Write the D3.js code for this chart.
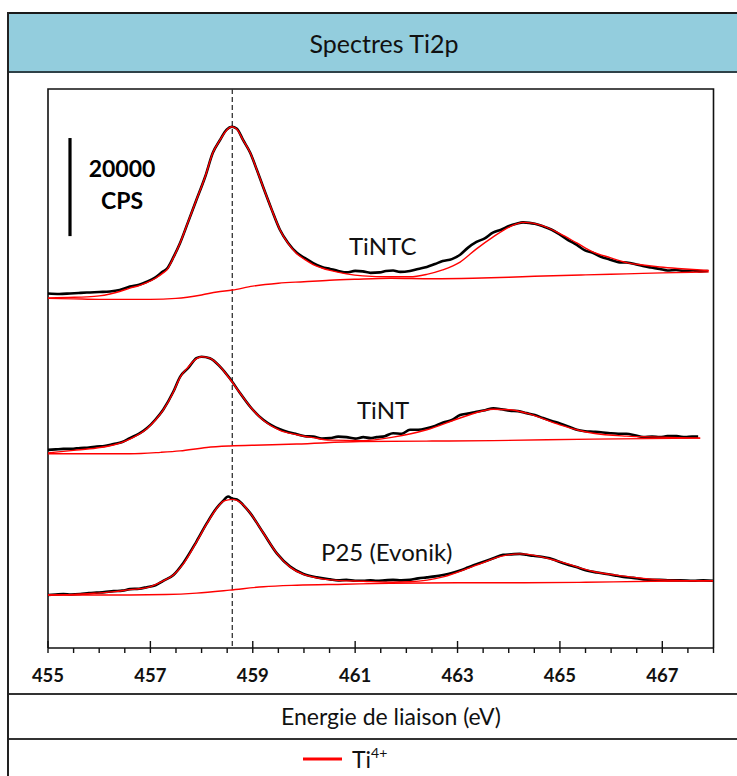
<!DOCTYPE html>
<html><head><meta charset="utf-8">
<script src="https://cdn.jsdelivr.net/npm/d3@7"></script>
<style>body{margin:0;background:#fff}svg{display:block}</style>
</head><body>
<svg id="c" width="737" height="776"></svg>
<script>
// ---------- data ----------
const chartTitle = "Spectres Ti2p";
const xLabel = "Energie de liaison (eV)";
const xTickValues = [455, 457, 459, 461, 463, 465, 467];
const xDomain = [455, 468];
const yDomain = [0, 114000];          // CPS (stacked spectra)
const refLine = 458.6;                // eV, dashed reference line
const scaleBar = [84000, 104000];     // 20000 CPS bar
const scaleBarText = ["20000", "CPS"];
const sampleNames = ["TiNTC", "TiNT", "P25 (Evonik)"];
const legendLabel = "Ti";
const legendSup = "4+";

// [binding energy eV, CPS] — measured spectra (black)
const tintcData = [[455.00,72300],[455.22,72200],[455.43,72300],[455.6,72400],[455.76,72500],[456.0,72600],[456.21,72700],[456.4,73000],[456.60,73700],[456.78,74100],[456.93,74700],[457.1,75600],[457.25,76800],[457.32,77300],[457.45,79700],[457.58,82600],[457.73,86700],[457.90,91400],[458.07,96100],[458.22,101000],[458.36,103600],[458.49,105700],[458.59,106300],[458.69,105900],[458.81,103600],[458.95,101000],[459.08,97500],[459.21,93800],[459.37,89400],[459.53,85300],[459.69,82600],[459.86,80600],[460.02,79500],[460.18,78500],[460.35,77700],[460.51,77300],[460.67,76900],[460.83,76600],[461.0,76900],[461.15,76800],[461.3,76500],[461.48,76600],[461.6,76900],[461.74,77000],[461.88,76700],[462.07,76900],[462.23,77300],[462.40,77700],[462.56,78300],[462.71,78900],[462.89,79300],[463.05,80200],[463.20,81600],[463.37,82800],[463.54,83600],[463.69,84700],[463.85,85300],[464.02,86100],[464.15,86500],[464.28,86800],[464.4,86700],[464.51,86500],[464.67,86000],[464.84,85300],[465.00,84300],[465.16,83200],[465.33,82200],[465.49,81100],[465.64,80600],[465.8,79800],[465.98,79200],[466.14,78700],[466.30,78600],[466.46,78300],[466.62,77900],[466.78,77600],[466.95,77300],[467.1,77000],[467.27,77100],[467.43,76900],[467.60,77000],[467.75,76800],[467.89,76900]];
const tintData = [[455.00,40400],[455.15,40500],[455.30,40600],[455.45,40600],[455.63,40800],[455.8,40900],[455.95,41100],[456.1,41200],[456.28,41600],[456.45,42000],[456.60,42800],[456.78,43700],[456.93,44800],[457.1,46600],[457.25,48600],[457.45,52300],[457.58,55300],[457.74,57100],[457.90,59100],[458.00,59400],[458.16,59100],[458.36,57400],[458.55,55000],[458.75,52000],[458.95,49200],[459.21,46500],[459.37,45400],[459.53,44600],[459.7,44000],[459.86,43600],[460.02,43200],[460.18,43100],[460.35,42700],[460.51,42800],[460.67,43100],[460.83,43000],[461.0,42700],[461.16,43000],[461.3,42800],[461.42,43000],[461.58,43200],[461.74,43800],[461.91,43700],[462.07,44500],[462.23,44500],[462.40,44800],[462.56,45300],[462.72,46000],[462.89,46500],[463.05,47500],[463.2,47800],[463.37,48200],[463.54,48500],[463.70,48900],[463.86,48700],[464.02,48400],[464.18,48300],[464.35,47900],[464.51,47500],[464.67,46900],[464.84,46300],[465.00,45800],[465.16,45200],[465.33,44500],[465.49,44200],[465.65,44100],[465.8,44000],[465.98,43800],[466.14,43700],[466.30,43700],[466.46,43400],[466.63,43000],[466.8,43100],[466.95,43000],[467.1,43200],[467.28,43200],[467.45,43000],[467.58,43100],[467.70,43100]];
const p25Data = [[455.00,10800],[455.15,10900],[455.30,11000],[455.45,10900],[455.63,11000],[455.8,11200],[455.95,11300],[456.1,11400],[456.28,11600],[456.45,11700],[456.60,12000],[456.78,12100],[456.93,12400],[457.1,12800],[457.25,13700],[457.45,14900],[457.64,17300],[457.90,21700],[458.10,25400],[458.29,28500],[458.42,30000],[458.52,30900],[458.59,30500],[458.69,30300],[458.81,29200],[458.95,27500],[459.21,23400],[459.47,19300],[459.73,16600],[459.99,15100],[460.25,14400],[460.51,14000],[460.67,13800],[460.83,13900],[461.0,13700],[461.16,13700],[461.3,13800],[461.42,13700],[461.58,13800],[461.74,13900],[461.9,13800],[462.07,13900],[462.23,14200],[462.40,14400],[462.56,14600],[462.72,14900],[462.89,15300],[463.05,15800],[463.2,16400],[463.37,17100],[463.54,17700],[463.70,18300],[463.89,19000],[464.05,19100],[464.22,19200],[464.35,19000],[464.48,18800],[464.64,18600],[464.80,18300],[464.96,17700],[465.13,17100],[465.32,16500],[465.52,15800],[465.72,15400],[465.91,15100],[466.07,14800],[466.24,14500],[466.43,14300],[466.63,14000],[466.8,13900],[466.95,13900],[467.15,13800],[467.35,13800],[467.60,13700],[467.8,13800],[467.99,13700]];

// Ti4+ fitted envelopes (red)
const tintcFit = [[455.00,71400],[455.4,71500],[455.76,71600],[456.0,71800],[456.21,72200],[456.4,72700],[456.60,73400],[456.78,73900],[456.93,74500],[457.1,75400],[457.25,76500],[457.32,77100],[457.45,79600],[457.58,82600],[457.73,86700],[457.90,91400],[458.07,96100],[458.22,101000],[458.36,103600],[458.49,105600],[458.59,106300],[458.69,105800],[458.81,103600],[458.95,101000],[459.08,97500],[459.21,93800],[459.37,89400],[459.53,85300],[459.69,82500],[459.86,80400],[460.02,79200],[460.18,78200],[460.35,77500],[460.51,77000],[460.83,76300],[461.15,75900],[461.68,75700],[462.07,75700],[462.40,76200],[462.71,77100],[463.05,78700],[463.37,81400],[463.69,83800],[464.02,85900],[464.28,86800],[464.67,86100],[465.00,84500],[465.33,82600],[465.64,80800],[465.98,79600],[466.30,78600],[466.62,78100],[466.95,77700],[467.30,77400],[467.60,77200],[467.91,77000]];
const tintFit = [[455.00,39800],[455.5,40300],[455.95,40800],[456.28,41400],[456.60,42600],[456.93,44700],[457.1,46500],[457.25,48500],[457.45,52200],[457.58,55200],[457.74,57300],[457.90,59000],[458.00,59400],[458.16,59100],[458.36,57400],[458.55,54900],[458.75,52000],[458.95,49200],[459.21,46400],[459.53,44400],[459.86,43500],[460.18,42900],[460.51,42400],[461.16,42300],[461.74,43000],[462.40,44500],[463.05,46900],[463.70,48700],[464.02,48600],[464.35,47900],[465.00,45500],[465.33,44500],[465.65,43800],[466.30,43200],[466.95,43000],[467.74,42800]];
const p25Fit = [[455.00,10800],[455.5,10900],[455.95,11200],[456.3,11500],[456.60,11900],[456.93,12300],[457.25,13700],[457.45,14900],[457.64,17100],[457.90,21600],[458.10,25300],[458.29,28400],[458.42,29900],[458.52,30200],[458.59,30300],[458.69,30100],[458.81,29200],[458.95,27500],[459.21,23400],[459.47,19300],[459.73,16500],[459.99,15000],[460.25,14300],[460.51,13900],[461.16,13600],[461.74,13400],[462.07,13500],[462.72,14500],[463.37,16900],[463.89,18800],[464.22,19200],[464.5,18900],[465.00,17600],[465.65,15600],[466.3,14600],[466.63,14200],[467.3,13800],[467.99,13700]];

// Shirley backgrounds (red)
const tintcBg = [[455.00,71300],[455.5,71200],[456.0,71100],[456.5,71100],[457.0,71100],[457.5,71300],[458.0,72000],[458.3,72600],[458.6,73000],[459.0,73800],[459.5,74400],[460.0,74700],[460.5,75000],[461.0,75200],[461.7,75400],[462.5,75300],[463.3,75400],[464.0,75600],[464.5,75800],[465.5,76100],[466.3,76300],[467.0,76500],[467.91,76700]];
const tintBg = [[455.00,39600],[456.0,39600],[456.6,39600],[457.2,39900],[457.58,40200],[458.1,40900],[458.55,41200],[459.2,41400],[459.86,41600],[461.1,42100],[462.5,42200],[463.7,42300],[465.65,42600],[467.74,42800]];
const p25Bg = [[455.00,10800],[456.0,10800],[456.6,10800],[457.3,10900],[457.90,11200],[458.55,11800],[459.21,12500],[459.86,12800],[460.8,13000],[461.68,13200],[463.0,13300],[464.3,13300],[465.5,13400],[466.8,13600],[467.99,13700]];

// ---------- layout ----------
const svg = d3.select("#c");
const W = 737, H = 776;
const frameL = 8, frameT = 13;
const plot = {l: 48, t: 89, r: 713.5, b: 648};
const font = "Lato, 'Open Sans', sans-serif";

const x = d3.scaleLinear().domain(xDomain).range([plot.l, plot.r]);
const y = d3.scaleLinear().domain(yDomain).range([plot.b, plot.t]);

// outer frame
svg.append("rect").attr("x", frameL).attr("y", frameT).attr("width", W + 10).attr("height", 59)
  .attr("fill", "#93CDDD").attr("stroke", "none");
svg.append("line").attr("x1", frameL).attr("x2", W).attr("y1", frameT).attr("y2", frameT)
  .attr("stroke", "#1a1a1a").attr("stroke-width", 2);
svg.append("line").attr("x1", frameL).attr("x2", W).attr("y1", 72).attr("y2", 72)
  .attr("stroke", "#2f4248").attr("stroke-width", 2);
[694, 739].forEach(yy => svg.append("line").attr("x1", frameL).attr("x2", W)
  .attr("y1", yy).attr("y2", yy).attr("stroke", "#333").attr("stroke-width", 2));
svg.append("line").attr("x1", frameL).attr("x2", frameL).attr("y1", frameT - 1).attr("y2", H)
  .attr("stroke", "#222").attr("stroke-width", 2);

svg.append("text").attr("x", 384).attr("y", 53).attr("text-anchor", "middle")
  .attr("font-family", font).attr("font-size", 25).attr("fill", "#111").text(chartTitle);
svg.append("text").attr("x", 391).attr("y", 725).attr("text-anchor", "middle")
  .attr("font-family", font).attr("font-size", 23).attr("fill", "#111").text(xLabel);

// plot box
svg.append("path")
  .attr("d", `M${plot.l},${plot.b}V${plot.t}H${plot.r}V${plot.b}`)
  .attr("fill", "none").attr("stroke", "#111").attr("stroke-width", 1.6);

// x axis
const minorTicks = d3.range(xDomain[0], xDomain[1] + 0.001, 0.5).filter(v => !xTickValues.includes(v));
const gAx = svg.append("g").attr("transform", `translate(0,${plot.b})`);
gAx.append("line").attr("x1", plot.l).attr("x2", plot.r).attr("stroke", "#111").attr("stroke-width", 1.6);
gAx.selectAll(".mn").data(minorTicks).join("line")
  .attr("x1", d => x(d)).attr("x2", d => x(d)).attr("y1", 0).attr("y2", 5)
  .attr("stroke", "#111").attr("stroke-width", 1.4);
gAx.selectAll(".mj").data(xTickValues).join("line")
  .attr("x1", d => x(d)).attr("x2", d => x(d)).attr("y1", -7).attr("y2", 5)
  .attr("stroke", "#111").attr("stroke-width", 1.4);
gAx.selectAll(".tl").data(xTickValues).join("text")
  .attr("x", d => x(d)).attr("y", 34).attr("text-anchor", "middle")
  .attr("font-family", font).attr("font-weight", "bold").attr("font-size", 18.5).attr("fill", "#111")
  .text(d => d);

// dashed reference line
svg.append("line").attr("x1", x(refLine)).attr("x2", x(refLine)).attr("y1", plot.t).attr("y2", plot.b)
  .attr("stroke", "#333").attr("stroke-width", 1.3).attr("stroke-dasharray", "5,3");

// spectra
const line = d3.line().x(d => x(d[0])).y(d => y(d[1])).curve(d3.curveMonotoneX);
const spectra = [
  {name: sampleNames[0], data: tintcData, fit: tintcFit, bg: tintcBg, lx: 349, ly: 255},
  {name: sampleNames[1], data: tintData, fit: tintFit, bg: tintBg, lx: 357, ly: 419},
  {name: sampleNames[2], data: p25Data, fit: p25Fit, bg: p25Bg, lx: 321, ly: 561}
];
spectra.forEach(s => {
  svg.append("path").attr("d", line(s.data)).attr("fill", "none")
    .attr("stroke", "#000").attr("stroke-width", 2.6).attr("stroke-linejoin", "round");
  svg.append("path").attr("d", line(s.bg)).attr("fill", "none")
    .attr("stroke", "#ff0000").attr("stroke-width", 1.4);
  svg.append("path").attr("d", line(s.fit)).attr("fill", "none")
    .attr("stroke", "#ff0000").attr("stroke-width", 1.4);
  svg.append("text").attr("x", s.lx).attr("y", s.ly)
    .attr("font-family", font).attr("font-size", 24).attr("fill", "#111").text(s.name);
});

// scale bar
const sbx = 70;
svg.append("line").attr("x1", sbx).attr("x2", sbx).attr("y1", y(scaleBar[0])).attr("y2", y(scaleBar[1]))
  .attr("stroke", "#000").attr("stroke-width", 3.2);
svg.append("text").attr("x", 122).attr("y", 177).attr("text-anchor", "middle")
  .attr("font-family", font).attr("font-weight", "bold").attr("font-size", 23).attr("fill", "#000").text(scaleBarText[0]);
svg.append("text").attr("x", 122).attr("y", 209).attr("text-anchor", "middle")
  .attr("font-family", font).attr("font-weight", "bold").attr("font-size", 23).attr("fill", "#000").text(scaleBarText[1]);

// legend
svg.append("line").attr("x1", 303).attr("x2", 342).attr("y1", 759).attr("y2", 759)
  .attr("stroke", "#ff0000").attr("stroke-width", 3.2);
const lt = svg.append("text").attr("x", 352).attr("y", 768)
  .attr("font-family", font).attr("font-size", 23).attr("fill", "#111");
lt.append("tspan").text(legendLabel);
lt.append("tspan").attr("font-size", 14).attr("dy", -10).text(legendSup);
</script>
</body></html>
